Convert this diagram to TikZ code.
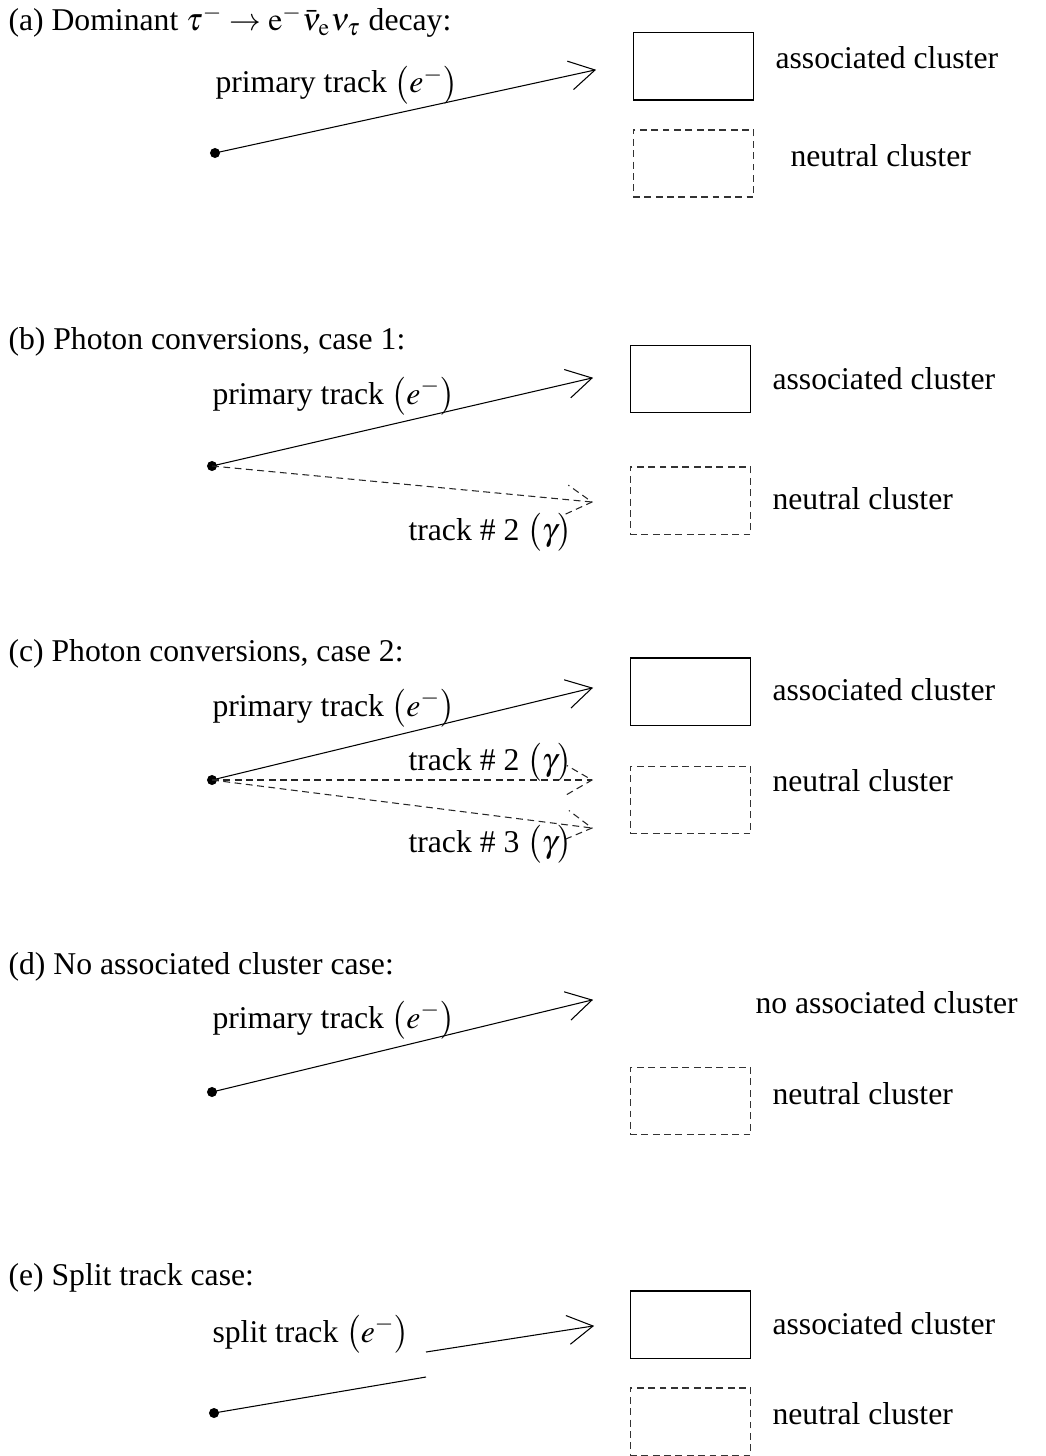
\documentclass[tikz,border=0pt]{standalone}
\usepackage{mathptmx}
\usepackage{fontspec}
\setmainfont{Liberation Serif}
\usetikzlibrary{calc}
\tikzset{
  lbl/.style={anchor=base west, inner sep=0pt, font=\fontsize{12}{14.4}\selectfont},
  vertex/.style={circle, fill=black, inner sep=0pt, minimum size=3.8pt},
  solidbox/.style={draw, line width=0.4pt, inner sep=0pt, minimum width=45.8pt, minimum height=25.4pt},
  neutbox/.style={solidbox, draw=black!80, dash pattern=on 2.6pt off 1.7pt},
  solidtrk/.style={line width=0.4pt},
  dashtrk/.style={line width=0.4pt, draw=black!85, dash pattern=on 2.6pt off 1.7pt},
}
% track with open V head: #1 style, #2 start, #3 tip
\newcommand{\trackarrow}[3]{%
  \draw[#1] (#2) -- (#3);
  \draw[#1] ($(#3)!11pt!30:(#2)$) -- (#3) -- ($(#3)!11pt!-30:(#2)$);
}
\begin{document}
\begin{tikzpicture}[x=0.3788pt, y=-0.3788pt, line join=miter]
\useasboundingbox (0,0) rectangle (1046,1456);

% ---------- (a)
\node[lbl] (ta) at (8,31) {(a) Dominant $\tau^{-}\rightarrow \mathrm{e}^{-}\bar{\nu}_{\mathrm{e}}\nu_{\tau}$ decay:};
\node[vertex] (va) at (215,153) {};
\coordinate (pa) at (595,70);
\trackarrow{solidtrk}{va.center}{pa}
\node[lbl] (la) at (215,93) {primary track $\bigl(e^{-}\bigr)$};
\node[solidbox] (ba) at (693.5,66.5) {};
\node[neutbox] (na) at (693.5,163.5) {};
\node[lbl] (aa) at (775,69) {associated cluster};
\node[lbl] (ma) at (790,166) {neutral cluster};

% ---------- (b)
\node[lbl] (tb) at (8,349) {(b) Photon conversions, case 1:};
\node[vertex] (vb) at (212,466) {};
\coordinate (pb) at (592,378);
\coordinate (gb) at (592,502);
\trackarrow{solidtrk}{vb.center}{pb}
\trackarrow{dashtrk}{vb.center}{gb}
\node[lbl] (lb) at (212,404) {primary track $\bigl(e^{-}\bigr)$};
\node[lbl] (kb) at (408,540) {track \# 2 $\bigl(\gamma\bigr)$};
\node[solidbox] (bb) at (690.5,379) {};
\node[neutbox] (nb) at (690.5,500.5) {};
\node[lbl] (ab) at (772,389) {associated cluster};
\node[lbl] (mb) at (772,509) {neutral cluster};

% ---------- (c)
\node[lbl] (tc) at (8,661) {(c) Photon conversions, case 2:};
\node[vertex] (vc) at (212,780) {};
\coordinate (pc) at (592,688);
\coordinate (gc) at (592,780);
\coordinate (hc) at (592,828);
\trackarrow{solidtrk}{vc.center}{pc}
\trackarrow{dashtrk}{vc.center}{gc}
\trackarrow{dashtrk}{vc.center}{hc}
\node[lbl] (lc) at (212,716) {primary track $\bigl(e^{-}\bigr)$};
\node[lbl] (kc) at (408,770) {track \# 2 $\bigl(\gamma\bigr)$};
\node[lbl] (jc) at (408,852) {track \# 3 $\bigl(\gamma\bigr)$};
\node[solidbox] (bc) at (690.5,691.5) {};
\node[neutbox] (nc) at (690.5,800) {};
\node[lbl] (ac) at (772,700) {associated cluster};
\node[lbl] (mc) at (772,791) {neutral cluster};

% ---------- (d)
\node[lbl] (td) at (8,974) {(d) No associated cluster case:};
\node[vertex] (vd) at (212,1092) {};
\coordinate (pd) at (592,1000);
\trackarrow{solidtrk}{vd.center}{pd}
\node[lbl] (ld) at (212,1028) {primary track $\bigl(e^{-}\bigr)$};
\node[neutbox] (nd) at (690.5,1101) {};
\node[lbl] (ad) at (755,1013) {no associated cluster};
\node[lbl] (md) at (772,1104) {neutral cluster};

% ---------- (e)
\node[lbl] (te) at (8,1285) {(e) Split track case:};
\node[vertex] (ve) at (214,1413) {};
\coordinate (se) at (426,1377);
\coordinate (re) at (426,1352);
\coordinate (pe) at (593,1326);
\draw[solidtrk] (ve.center) -- (se);
\trackarrow{solidtrk}{re}{pe}
\node[lbl] (le) at (212,1342) {split track $\bigl(e^{-}\bigr)$};
\node[solidbox] (be) at (690.5,1324.5) {};
\node[neutbox] (ne) at (690.5,1421.5) {};
\node[lbl] (ae) at (772,1334) {associated cluster};
\node[lbl] (me) at (772,1424) {neutral cluster};
\end{tikzpicture}
\end{document}
